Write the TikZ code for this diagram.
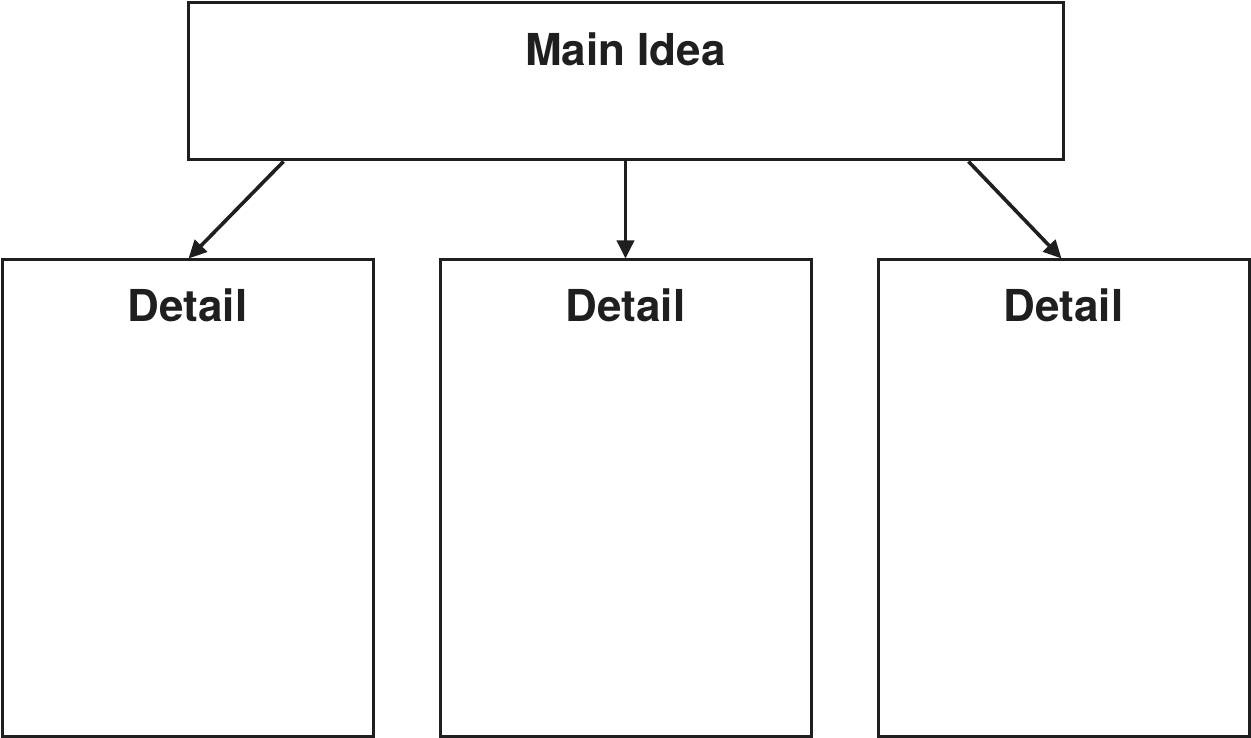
\documentclass[tikz,border=0pt]{standalone}
\usepackage{fontspec}
\setmainfont{TeX Gyre Heros}
\usetikzlibrary{arrows.meta,positioning}

\begin{document}
\begin{tikzpicture}[x=1pt,y=-1pt,
    box/.style={draw=black!88, line width=3pt, rectangle, inner sep=0pt},
    head/.style={font=\fontsize{44}{48}\selectfont\bfseries, text=black!88},
    link/.style={draw=black!88, line width=3.6pt, -{Triangle[length=18pt,width=17pt]}}]
  \useasboundingbox (0,0) rectangle (1251,738);

  % top box
  \node[box, minimum width=875pt, minimum height=157pt] (main) at (625.5,81.5) {};
  \node[head] (maintext) at (625.5,49) {Main Idea};

  % detail boxes
  \foreach \i/\xc in {1/187.5, 2/625.5, 3/1063.5}{
    \node[box, minimum width=371pt, minimum height=476pt] (d\i) at (\xc,498) {};
    \node[head] (dtext\i) at (\xc,305) {Detail};
  }

  \draw[link] ([xshift=97pt]main.south west) -- ([xshift=188pt]d1.north west);
  \draw[link] (main.south) -- (d2.north);
  \draw[link] ([xshift=-96pt]main.south east) -- ([xshift=185pt]d3.north west);
\end{tikzpicture}
\end{document}
